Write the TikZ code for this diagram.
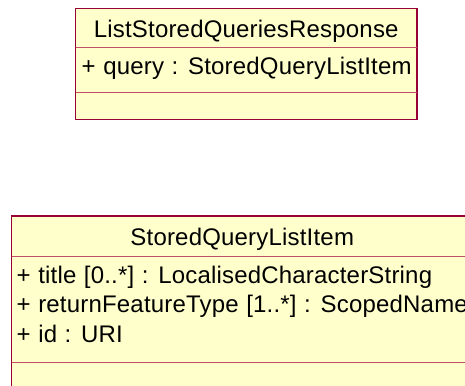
\documentclass[tikz,border=0pt]{standalone}
\usepackage{fontspec}
\setmainfont{Liberation Sans}[LetterSpace=0.8,WordSpace=1.1]
\definecolor{umlfill}{HTML}{FFFFCC}
\definecolor{umlborder}{HTML}{990033}
\definecolor{umlsep}{HTML}{C05068}
\begin{document}
\begin{tikzpicture}[x=1pt,y=-1pt,
  classbox/.style={draw=umlborder,fill=umlfill,line width=1.8pt},
  sepline/.style={draw=umlsep,line width=1pt},
  txt/.style={inner sep=0pt,font=\fontsize{24}{28}\selectfont,text=black}]
\useasboundingbox (0,0) rectangle (465,385);
\clip (0,0) rectangle (465,385);
% top class
\path[classbox] (75.5,8.5) rectangle (417,119.5);
\path[sepline] (75.5,48) -- (417,48);
\path[sepline] (75.5,93) -- (417,93);
\node[txt,anchor=base] (resp) at (246.25,37.3) {ListStoredQueriesResponse};
\node[txt,anchor=base west] (query) at (81.5,75) {+ query : StoredQueryListItem};
% bottom class
\path[classbox] (11.5,216) rectangle (473,400);
\path[sepline] (11.5,256) -- (473,256);
\path[sepline] (11.5,362) -- (473,362);
\node[txt,anchor=base] (item) at (242.25,245) {StoredQueryListItem};
\node[txt,anchor=base west] (title) at (16.5,283) {+ title [0..*] : LocalisedCharacterString};
\node[txt,anchor=base west] (rft) at (16.5,312.7) {+ returnFeatureType [1..*] : ScopedName};
\node[txt,anchor=base west] (id) at (16.5,342.4) {+ id : URI};
\end{tikzpicture}
\end{document}
